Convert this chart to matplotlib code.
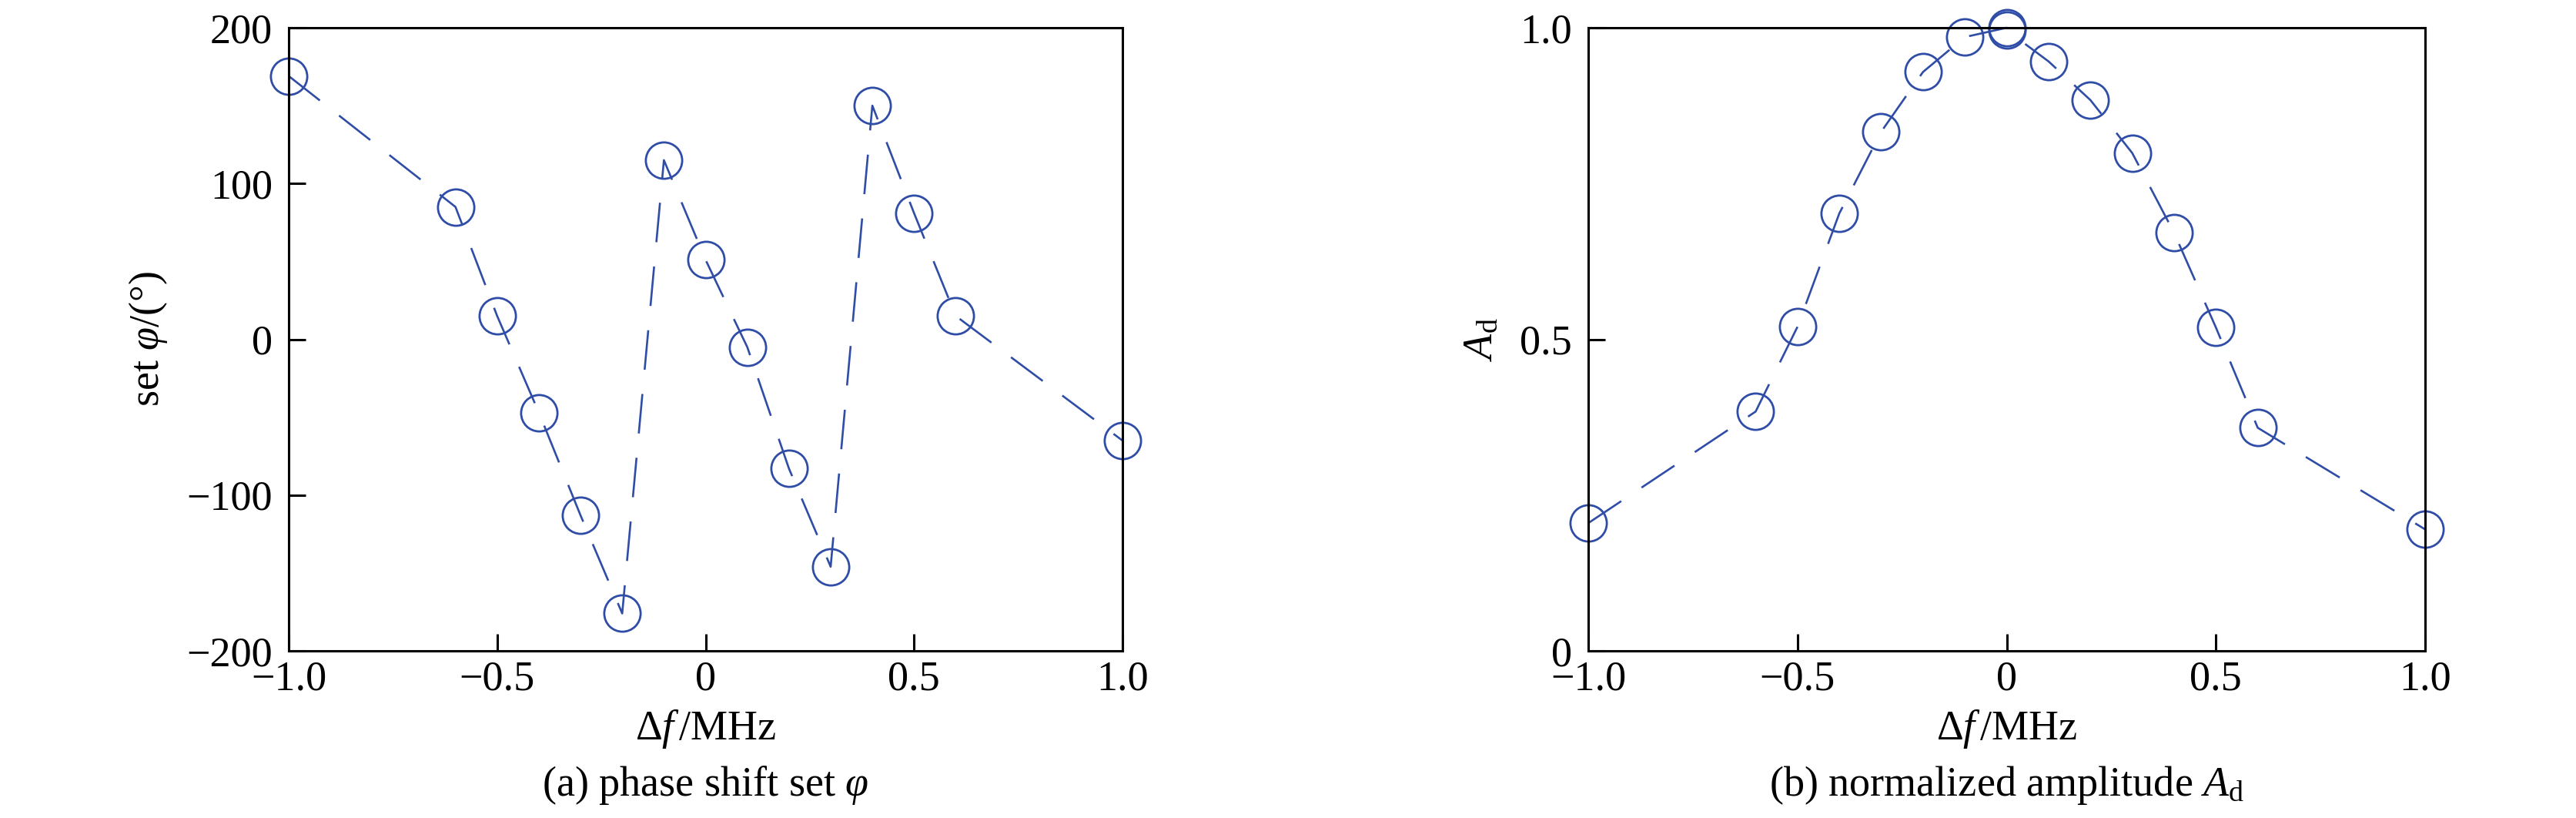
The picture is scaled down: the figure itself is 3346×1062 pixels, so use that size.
import matplotlib
matplotlib.use("Agg")
import matplotlib.pyplot as plt

plt.rcParams['font.family'] = ['Liberation Serif', 'DejaVu Serif']
plt.rcParams['mathtext.fontset'] = 'custom'
plt.rcParams['mathtext.rm'] = 'Liberation Serif'
plt.rcParams['mathtext.it'] = 'Liberation Serif:italic'
plt.rcParams['axes.unicode_minus'] = True

# data
df_a = [-1.0, -0.6, -0.5, -0.4, -0.3, -0.2, -0.1, 0.0, 0.1, 0.2, 0.3, 0.4, 0.5, 0.6, 1.0]
phase = [169, 85, 15, -47, -113, -176, 115, 51, -5, -83, -146, 150, 81, 15, -65]

df_b = [-1.0, -0.6, -0.5, -0.4, -0.3, -0.2, -0.1, 0.0, 0.0, 0.1, 0.2, 0.3, 0.4, 0.5, 0.6, 1.0]
amp = [0.205, 0.384, 0.520, 0.702, 0.833, 0.929, 0.985, 1.0, 0.996, 0.946, 0.884, 0.799, 0.671, 0.519, 0.358, 0.195]

xticks = [-1.0, -0.5, 0, 0.5, 1.0]
xticklabels = ['\u22121.0', '\u22120.5', '0', '0.5', '1.0']
yticks_a = [-200, -100, 0, 100, 200]
yticklabels_a = ['\u2212200', '\u2212100', '0', '100', '200']
yticks_b = [0, 0.5, 1.0]
yticklabels_b = ['0', '0.5', '1.0']

W, H = 3346, 1062
fig = plt.figure(figsize=(W / 100, H / 100), dpi=100)

color = '#2F4DA6'
fs = 39
lw = 1.9

ax_a = fig.add_axes([375 / W, 1 - 845 / H, 1083 / W, 809 / H])
ax_b = fig.add_axes([2063 / W, 1 - 845 / H, 1087 / W, 809 / H])

for ax, x, y in [(ax_a, df_a, phase), (ax_b, df_b, amp)]:
    ax.plot(x, y, color=color, lw=lw, dashes=(19.5, 12), marker='o', ms=34,
            mfc='none', mec=color, mew=2.0, clip_on=False)
    ax.set_xlim(-1.0, 1.0)
    ax.set_xticks(xticks)
    ax.set_xticklabels(xticklabels)
    ax.tick_params(direction='in', length=16, width=2.2, labelsize=fs,
                   top=False, right=False)
    ax.tick_params(axis='x', pad=9)
    ax.tick_params(axis='y', pad=15)
    for s in ax.spines.values():
        s.set_linewidth(2.2)
    ax.set_xlabel('\u0394$f\\,$/MHz', fontsize=fs, labelpad=8)

ax_a.set_ylim(-200, 200)
ax_a.set_yticks(yticks_a)
ax_a.set_yticklabels(yticklabels_a)
ax_a.set_ylabel('set $\\varphi$/(°)', fontsize=fs, labelpad=16)

ax_b.set_ylim(0, 1.0)
ax_b.set_yticks(yticks_b)
ax_b.set_yticklabels(yticklabels_b)
ax_b.set_ylabel('$A_\\mathrm{d}$', fontsize=fs, labelpad=18)

fig.text((375 + 1083 / 2) / W, 1 - 1033 / H, '(a) phase shift set $\\varphi$',
         ha='center', va='baseline', fontsize=fs)
fig.text((2063 + 1087 / 2) / W, 1 - 1033 / H, '(b) normalized amplitude $A_\\mathrm{d}$',
         ha='center', va='baseline', fontsize=fs)

fig.savefig('out.png', dpi=100)
